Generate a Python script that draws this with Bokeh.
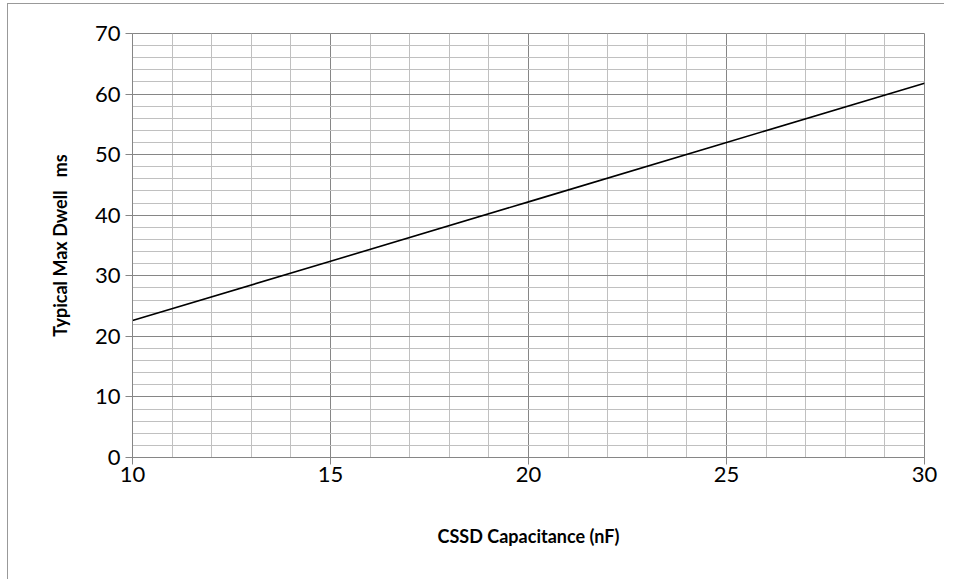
from bokeh.plotting import figure
from bokeh.models import SingleIntervalTicker, Range1d
from bokeh.embed import file_html
from bokeh.resources import INLINE

capacitance_nf = [10, 15, 20, 25, 30]
dwell_ms = [22.6, 32.4, 42.2, 52.0, 61.8]

x_label = "CSSD Capacitance (nF)"
y_label = "Typical Max Dwell\u00a0\u00a0\u00a0ms"

FONT = "Lato"
MAJOR = "#868686"
MINOR = "#c0c0c0"

p = figure(frame_width=792, frame_height=424, output_backend="svg", toolbar_location=None,
           x_range=Range1d(10, 30), y_range=Range1d(0, 70),
           min_border_left=124, min_border_right=20, min_border_top=29, min_border_bottom=122)
p.styles = {"border-left": "1px solid #999999", "border-top": "1px solid #999999",
            "margin-left": "7px", "margin-top": "3px"}

p.line(capacitance_nf, dwell_ms, line_color="black", line_width=1.6)

p.xaxis.ticker = SingleIntervalTicker(interval=5, num_minor_ticks=5)
p.yaxis.ticker = SingleIntervalTicker(interval=10, num_minor_ticks=5)

for ax in (p.xaxis, p.yaxis):
    ax.axis_line_color = MAJOR
    ax.major_tick_line_color = MAJOR
    ax.major_tick_in = 0
    ax.major_tick_out = 7
    ax.minor_tick_line_color = None
    ax.major_label_text_font = FONT
    ax.major_label_text_font_size = "22px"
    ax.major_label_text_color = "black"
    ax.axis_label_text_font = FONT
    ax.axis_label_text_font_size = "18px"
    ax.axis_label_text_font_style = "bold"
    ax.axis_label_text_color = "black"

p.xaxis.axis_label = x_label
p.yaxis.axis_label = y_label
p.xaxis.major_label_standoff = 2
p.xaxis.axis_label_standoff = 40
p.yaxis.major_label_standoff = 5
p.yaxis.axis_label_standoff = 21

for g in (p.xgrid, p.ygrid):
    g.grid_line_color = MAJOR
    g.grid_line_width = 1
    g.minor_grid_line_color = MINOR
    g.minor_grid_line_width = 1
    g.level = "underlay"

p.outline_line_color = MAJOR
p.background_fill_color = "white"
p.border_fill_color = "white"

open("out.html", "w").write(file_html(p, INLINE))
